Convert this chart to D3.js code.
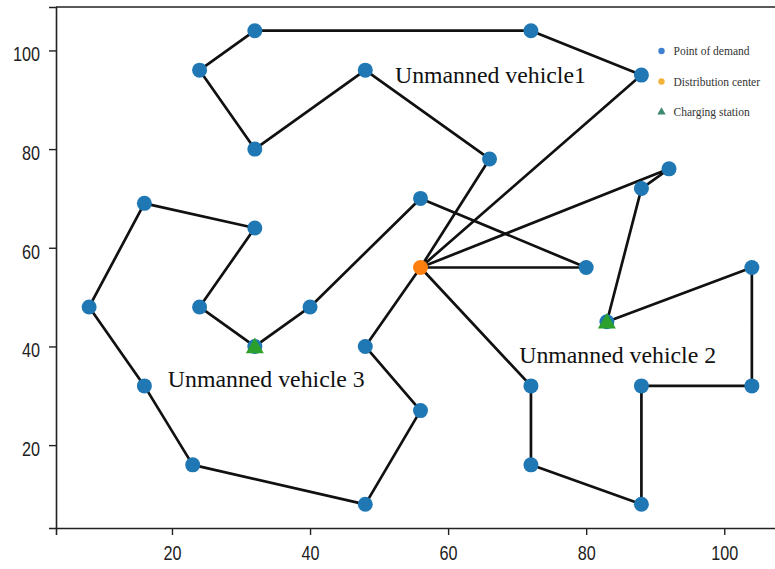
<!DOCTYPE html>
<html>
<head>
<meta charset="utf-8">
<script src="https://cdn.jsdelivr.net/npm/d3@7"></script>
<style>
  html, body { margin: 0; padding: 0; background: #fff; }
  svg { display: block; }
</style>
</head>
<body>
<svg id="chart" width="775" height="569"></svg>
<script>
// ---- data ----
const distributionCenter = [[56, 56]];
const chargingStations = [[32, 40], [83, 45]];
const route1 = [[56,56],[66,78],[48,96],[32,80],[24,96],[32,104],[72,104],[88,95],[56,56]];
const route2 = [[56,56],[92,76],[88,72],[83,45],[104,56],[104,32],[88,32],[88,8],[72,16],[72,32],[56,56]];
const route3 = [[56,56],[48,40],[56,27],[48,8],[23,16],[16,32],[8,48],[16,69],[32,64],[24,48],[32,40],[40,48],[56,70],[80,56],[56,56]];
const routeLabels = ["Unmanned vehicle1", "Unmanned vehicle 2", "Unmanned vehicle 3"];
const routeLabelPos = [[52.3, 93.4], [70.3, 36.6], [19.4, 31.8]];
const legendLabels = ["Point of demand", "Distribution center", "Charging station"];
const xTicks = [20, 40, 60, 80, 100];
const yTicks = [20, 40, 60, 80, 100];
const xDomain = [3.2, 108.8];
const yDomain = [3.2, 108.8];

// ---- layout ----
const svg = d3.select("#chart");
const mLeft = 56, mRight = 785, mTop = 7, mBottom = 528;
const x = d3.scaleLinear().domain(xDomain).range([mLeft, mRight]);
const y = d3.scaleLinear().domain(yDomain).range([mBottom, mTop]);

const routes = [route1, route2, route3];
const demandPoints = [];
routes.forEach(r => r.forEach(p => {
  if (!(p[0] === distributionCenter[0][0] && p[1] === distributionCenter[0][1])) demandPoints.push(p);
}));

const blue = "#1f77b4", orange = "#ff7f0e", green = "#2ca02c";

// routes
const line = d3.line().x(d => x(d[0])).y(d => y(d[1]));
svg.append("g").selectAll("path").data(routes).join("path")
  .attr("d", line).attr("fill", "none").attr("stroke", "#111")
  .attr("stroke-width", 2.7).attr("stroke-linejoin", "round");

// demand points
svg.append("g").selectAll("circle").data(demandPoints).join("circle")
  .attr("cx", d => x(d[0])).attr("cy", d => y(d[1])).attr("r", 7.5).attr("fill", blue);

// distribution center
svg.append("g").selectAll("circle").data(distributionCenter).join("circle")
  .attr("cx", d => x(d[0])).attr("cy", d => y(d[1])).attr("r", 7.5).attr("fill", orange);

// charging stations
const tri = d3.symbol().type(d3.symbolTriangle).size(140);
svg.append("g").selectAll("path").data(chargingStations).join("path")
  .attr("d", tri).attr("fill", green)
  .attr("transform", d => `translate(${x(d[0])},${y(d[1]) + 1.5})`);

// axes
const axisFont = "'Liberation Sans', Arial, sans-serif";
const xAxis = svg.append("g").attr("transform", `translate(0,${mBottom})`)
  .call(d3.axisBottom(x).tickValues(xTicks).tickSize(7).tickPadding(11).tickFormat(d3.format("d")));
const yAxis = svg.append("g").attr("transform", `translate(${mLeft},0)`)
  .call(d3.axisLeft(y).tickValues(yTicks).tickSize(7).tickPadding(9).tickFormat(d3.format("d")));
[xAxis, yAxis].forEach(g => {
  g.select(".domain").attr("stroke", "#222").attr("stroke-width", 1.6);
  g.selectAll(".tick line").attr("stroke", "#222").attr("stroke-width", 1.4);
  g.selectAll(".tick text").attr("font-family", axisFont).attr("font-size", 20)
    .attr("fill", "#222")
    .attr("textLength", d => String(d).length * 9)
    .attr("lengthAdjust", "spacingAndGlyphs");
});
yAxis.selectAll(".tick text").attr("dy", "0.52em");
// top spine
svg.append("line").attr("x1", mLeft).attr("x2", 775).attr("y1", mTop).attr("y2", mTop)
  .attr("stroke", "#222").attr("stroke-width", 1.6);

// route labels
svg.append("g").selectAll("text").data(routeLabels).join("text")
  .attr("x", (d, i) => x(routeLabelPos[i][0])).attr("y", (d, i) => y(routeLabelPos[i][1]))
  .attr("font-family", "'Liberation Serif', 'Times New Roman', serif")
  .attr("font-size", 23.8).attr("fill", "#111").text(d => d);

// legend
const legendY = [51, 81.5, 112];
const lg = svg.append("g");
lg.append("circle").attr("cx", 661.5).attr("cy", legendY[0]).attr("r", 3.2).attr("fill", "#3f7fd0");
lg.append("circle").attr("cx", 661.5).attr("cy", legendY[1]).attr("r", 3.2).attr("fill", "#f2b43c");
lg.append("path").attr("d", d3.symbol().type(d3.symbolTriangle).size(30))
  .attr("transform", `translate(661.5,${legendY[2]})`).attr("fill", "#3e8a70");
lg.selectAll("text").data(legendLabels).join("text")
  .attr("x", 673.5).attr("y", (d, i) => legendY[i] + 4)
  .attr("font-family", "'Liberation Serif', 'Times New Roman', serif")
  .attr("font-size", 11.5).attr("fill", "#333").text(d => d);
</script>
</body>
</html>
